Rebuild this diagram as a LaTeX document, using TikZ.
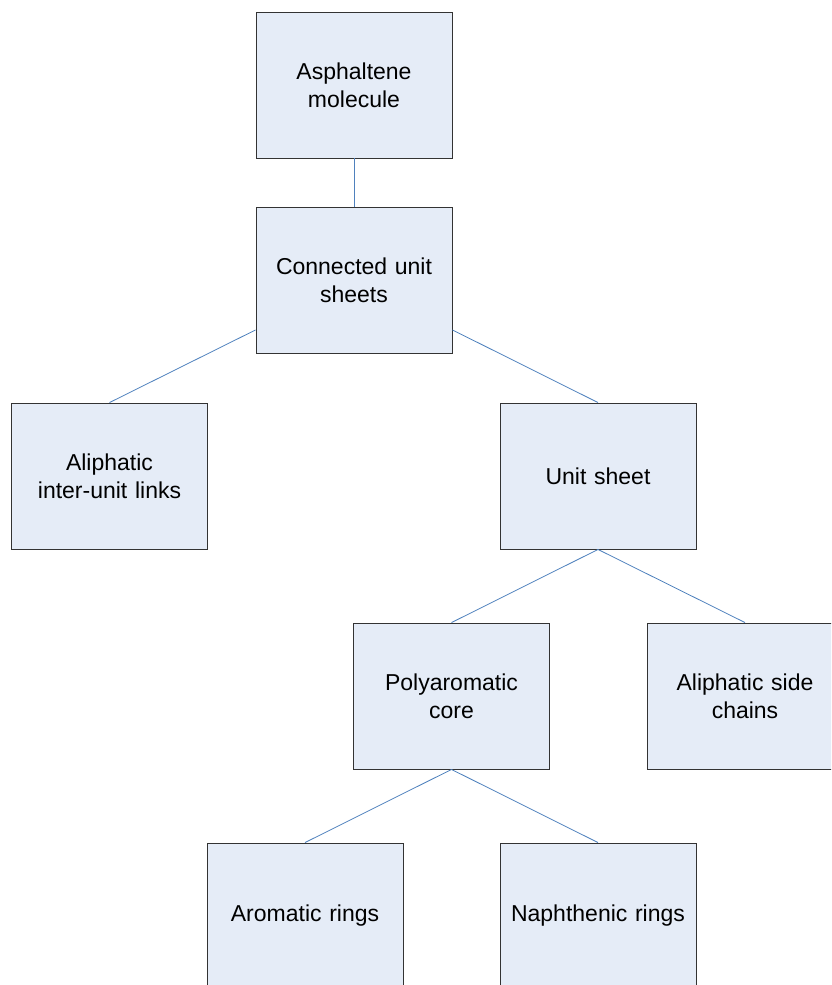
\documentclass[tikz,border=0pt]{standalone}
\usepackage{fontspec}
\setmainfont{Liberation Sans}
\usetikzlibrary{calc}
\definecolor{boxfill}{HTML}{E5ECF7}
\definecolor{linkblue}{HTML}{4F81BD}
\tikzset{
	part/.style={draw=black!80, line width=0.9pt, fill=boxfill, minimum width=196pt, minimum height=146pt, inner sep=0pt, text width=190pt, align=center, font=\fontsize{23}{28}\selectfont},
	link/.style={draw=linkblue, line width=0.8pt}
}

\begin{document}
\begin{tikzpicture}[x=1pt, y=-1pt]
		%%%%% START %%%%%
		\useasboundingbox (0, 0) rectangle (831, 985);
		\clip (0, 0) rectangle (831, 985);
		
		\node[part] (asph) at (354, 85) {Asphaltene\\molecule};
		\node[part] (conn) at (354, 280.5) {Connected unit\\sheets};
		
		\node[part] (links) at (109.5, 476) {Aliphatic\\inter-unit links};
		\node[part] (unit) at (598, 476) {Unit sheet};
		
		\node[part] (core) at (451.5, 696) {Polyaromatic\\core};
		\node[part] (side) at (745, 696) {Aliphatic side\\chains};
		
		\node[part] (arom) at (305, 916) {Aromatic rings};
		\node[part] (naph) at (598, 916) {Naphthenic rings};
		
		\draw[link] (asph.south) -- (conn.north);
		\draw[link] ([yshift=24pt]conn.south west) -- (links.north);
		\draw[link] ([yshift=24pt]conn.south east) -- (unit.north);
		\draw[link] (unit.south) -- (core.north);
		\draw[link] (unit.south) -- (side.north);
		\draw[link] (core.south) -- (arom.north);
		\draw[link] (core.south) -- (naph.north);
		%%%%% END %%%%%
	\end{tikzpicture}
\end{document}
